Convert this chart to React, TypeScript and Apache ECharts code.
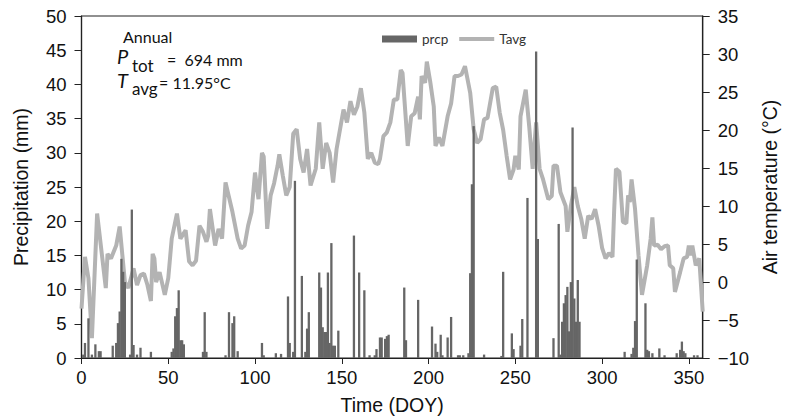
import React, { useEffect, useRef } from "react";
import * as echarts from "echarts";

// Daily precipitation (DOY, mm)
const prcpDays = [1, 2, 4, 6, 8, 10, 11, 18, 20, 21, 22, 23, 24, 25, 28, 29, 30, 32, 34, 40, 52, 53, 54, 55, 56, 57, 58, 59, 70, 71, 72, 83, 85, 87, 88, 90, 104, 105, 112, 115, 119, 120, 122, 123, 127, 129, 130, 131, 137, 138, 139, 140, 141, 142, 143, 144, 145, 146, 148, 157, 160, 163, 166, 169, 170, 172, 173, 175, 176, 177, 186, 187, 194, 202, 204, 205, 207, 208, 211, 213, 217, 218, 220, 223, 224, 225, 226, 232, 242, 243, 248, 249, 253, 254, 257, 262, 263, 272, 275, 276, 277, 278, 279, 280, 281, 282, 283, 284, 285, 286, 287, 313, 317, 318, 319, 320, 325, 326, 327, 329, 333, 336, 343, 345, 346, 347, 348, 353, 355];
const prcpValues = [0.5, 2.2, 5.8, 0.5, 2.0, 1.0, 1.0, 1.8, 2.2, 5.1, 6.8, 14.5, 12.6, 11.1, 0.5, 21.7, 1.9, 0.5, 1.5, 0.9, 0.9, 1.4, 6.1, 7.3, 9.9, 2.6, 2.6, 2.0, 0.9, 6.7, 0.9, 0.4, 6.7, 5.1, 6.1, 1.0, 2.2, 0.4, 0.7, 0.6, 9.0, 2.2, 0.9, 25.9, 12.0, 0.9, 4.3, 6.7, 12.5, 10.3, 4.5, 3.8, 3.8, 12.5, 2.2, 16.8, 1.8, 1.8, 4.0, 17.9, 12.5, 9.9, 0.4, 0.4, 1.3, 3.0, 3.0, 2.8, 3.2, 3.4, 10.3, 2.6, 8.5, 4.6, 2.1, 0.9, 3.4, 0.4, 3.0, 6.0, 0.4, 0.4, 0.4, 0.7, 12.4, 25.4, 33.9, 0.5, 0.3, 12.6, 3.6, 1.3, 1.8, 5.7, 23.4, 44.8, 17.4, 2.9, 19.6, 0.5, 5.3, 8.0, 9.2, 10.4, 3.9, 11.1, 33.7, 8.7, 5.3, 11.4, 5.3, 0.9, 0.6, 1.5, 5.4, 14.4, 8.0, 1.2, 1.0, 0.7, 1.4, 0.4, 0.7, 1.2, 2.4, 1.0, 0.7, 0.4, 0.4];

// Daily mean air temperature (DOY, °C)
const tavgDays = [0, 2, 4, 6, 9, 14, 15, 17, 20, 22, 25, 27, 30, 32, 34, 36, 38, 40, 41, 42, 43, 45, 48, 50, 52, 55, 57, 60, 62, 64, 66, 68, 70, 72, 73, 74, 77, 79, 81, 83, 87, 90, 92, 94, 96, 98, 100, 102, 104, 105, 107, 109, 111, 113, 114, 116, 118, 120, 122, 124, 126, 128, 130, 132, 135, 137, 139, 141, 143, 145, 147, 148, 151, 153, 155, 157, 159, 161, 163, 165, 167, 169, 171, 172, 174, 176, 178, 180, 182, 184, 185, 188, 190, 192, 194, 195, 196, 198, 199, 201, 203, 204, 206, 208, 211, 213, 215, 217, 219, 221, 224, 226, 228, 230, 232, 234, 237, 239, 241, 243, 245, 247, 249, 250, 252, 253, 256, 258, 260, 262, 264, 266, 269, 271, 272, 274, 276, 279, 280, 282, 284, 286, 288, 290, 292, 294, 296, 298, 300, 302, 304, 306, 307, 308, 310, 312, 314, 315, 316, 317, 319, 321, 323, 326, 328, 329, 330, 332, 334, 336, 338, 339, 341, 342, 345, 347, 349, 350, 351, 352, 354, 356, 358];
const tavgValues = [-3.5, 3.3, 0.5, -7.4, 9.0, -0.8, 3.7, 3.1, 4.8, 7.3, 0.0, -0.8, 1.8, -0.4, 0.9, 1.1, -0.4, -2.5, 3.7, 3.1, 0.0, 1.3, -1.7, 0.5, 5.7, 9.0, 5.7, 6.8, 2.7, 2.2, 2.8, 7.4, 6.6, 5.3, 6.1, 9.6, 4.8, 7.0, 5.7, 13.1, 9.2, 5.7, 4.4, 4.8, 7.4, 9.2, 14.4, 10.9, 17.0, 16.5, 7.0, 11.4, 13.0, 15.3, 16.8, 14.0, 11.4, 12.5, 19.5, 20.1, 16.2, 14.4, 17.5, 12.7, 14.9, 21.0, 14.9, 18.3, 17.0, 13.1, 17.5, 18.8, 22.7, 21.0, 23.8, 22.0, 23.1, 25.5, 22.3, 16.2, 17.0, 15.7, 15.5, 16.2, 19.2, 19.7, 21.0, 24.0, 24.0, 27.9, 27.5, 17.9, 21.8, 22.2, 24.4, 21.4, 27.1, 26.2, 29.0, 26.3, 23.1, 17.9, 19.0, 17.9, 21.8, 23.5, 27.1, 27.1, 27.3, 28.4, 24.9, 20.1, 18.3, 18.8, 21.4, 21.6, 25.5, 25.7, 22.3, 20.0, 16.6, 13.5, 14.8, 16.6, 14.8, 21.8, 25.3, 20.5, 14.9, 21.0, 14.9, 13.5, 10.9, 11.3, 15.3, 15.3, 11.8, 10.0, 6.6, 10.0, 12.5, 10.0, 8.3, 5.7, 8.7, 8.3, 9.6, 7.4, 4.5, 3.1, 3.8, 3.3, 9.6, 14.9, 14.5, 7.9, 7.7, 11.4, 10.5, 13.5, 9.6, 3.5, -1.7, 2.2, 5.7, 8.5, 4.8, 4.9, 4.3, 4.7, 4.8, 2.2, 1.8, -1.3, 1.3, 3.1, 3.3, 4.8, 3.5, 4.8, 2.2, 3.1, -3.9];

const xTicks = [0, 50, 100, 150, 200, 250, 300, 350];

export default function App() {
  const ref = useRef<HTMLDivElement>(null);
  useEffect(() => {
    document.body.style.margin = "0";
    if (!ref.current) return;
    const chart = echarts.init(ref.current, null, { renderer: "svg" });
    const prcpData = prcpDays.map((d, i) => [d, prcpValues[i]]);
    const tavgData = tavgDays.map((d, i) => [d, tavgValues[i]]);
    const axisFont = "Liberation Sans";
    const lbl = { fontFamily: axisFont, fontSize: 18.5, color: "#111" };
    const nameStyle = { fontFamily: axisFont, fontSize: 19.5, color: "#111" };
    chart.setOption({
      animation: false,
      backgroundColor: "#fff",
      grid: {
        left: 81.5,
        right: 82.5,
        top: 16,
        bottom: 60,
        show: true,
        borderColor: "#222",
        borderWidth: 1.2,
      },
      legend: {
        left: 377,
        top: 27,
        itemWidth: 35,
        itemHeight: 7,
        itemGap: 9,
        textStyle: { fontFamily: "Lato", fontSize: 13.5, color: "#333" },
        data: [
          { name: "prcp", icon: "rect" },
          { name: "Tavg", itemStyle: { opacity: 0 }, lineStyle: { width: 4, color: "#b3b3b3" } },
        ],
      },
      xAxis: {
        type: "value",
        min: 0,
        max: 358,
        interval: 50,
        name: "Time (DOY)",
        nameLocation: "middle",
        nameGap: 37,
        nameTextStyle: nameStyle,
        splitLine: { show: false },
        axisLine: { lineStyle: { color: "#222", width: 1.2 } },
        axisTick: { inside: false, length: 6, lineStyle: { color: "#222" }, customValues: xTicks },
        axisLabel: { ...lbl, margin: 10, customValues: xTicks },
      },
      yAxis: [
        {
          type: "value",
          min: 0,
          max: 50,
          interval: 5,
          name: "Precipitation (mm)",
          nameLocation: "middle",
          nameGap: 51,
          nameTextStyle: nameStyle,
          splitLine: { show: false },
          axisLine: { show: true, lineStyle: { color: "#222", width: 1.2 } },
          axisTick: { show: true, length: 7, lineStyle: { color: "#222" } },
          axisLabel: { ...lbl, margin: 15 },
        },
        {
          type: "value",
          position: "right",
          min: -10,
          max: 35,
          interval: 5,
          name: "Air temperature (°C)",
          nameLocation: "middle",
          nameGap: 57,
          nameRotate: 90,
          nameTextStyle: nameStyle,
          splitLine: { show: false },
          axisLine: { show: true, lineStyle: { color: "#222", width: 1.2 } },
          axisTick: { show: true, length: 7, lineStyle: { color: "#222" } },
          axisLabel: {
            ...lbl,
            margin: 15,
            formatter: (v: number) => (v < 0 ? "\u2212" + Math.abs(v) : String(v)),
          },
        },
      ],
      series: [
        {
          name: "prcp",
          type: "bar",
          xAxisIndex: 0,
          yAxisIndex: 0,
          barWidth: 2.3,
          itemStyle: { color: "#666666" },
          data: prcpData,
          z: 3,
        },
        {
          name: "Tavg",
          type: "line",
          xAxisIndex: 0,
          yAxisIndex: 1,
          symbol: "none",
          showSymbol: false,
          lineStyle: { color: "#b3b3b3", width: 4 },
          itemStyle: { color: "#b3b3b3" },
          data: tavgData,
          z: 2,
        },
      ],
      graphic: [
        { type: "text", x: 123, y: 28, style: { text: "Annual", font: "16px Lato", fill: "#111" } },
        { type: "text", x: 117, y: 46, style: { text: "P", font: "italic 20px Lato", fill: "#111" } },
        { type: "text", x: 132, y: 57, style: { text: "tot", font: "17px Lato", fill: "#111" } },
        { type: "text", x: 167, y: 51, style: { text: "=  694 mm", font: "16px Lato", fill: "#111" } },
        { type: "text", x: 117, y: 70, style: { text: "T", font: "italic 20px Lato", fill: "#111" } },
        { type: "text", x: 132, y: 80, style: { text: "avg", font: "17px Lato", fill: "#111" } },
        { type: "text", x: 159, y: 74, style: { text: "= 11.95°C", font: "16px Lato", fill: "#111" } },
      ],
    });
    return () => chart.dispose();
  }, []);
  return <div ref={ref} style={{ width: 788, height: 420 }} />;
}
